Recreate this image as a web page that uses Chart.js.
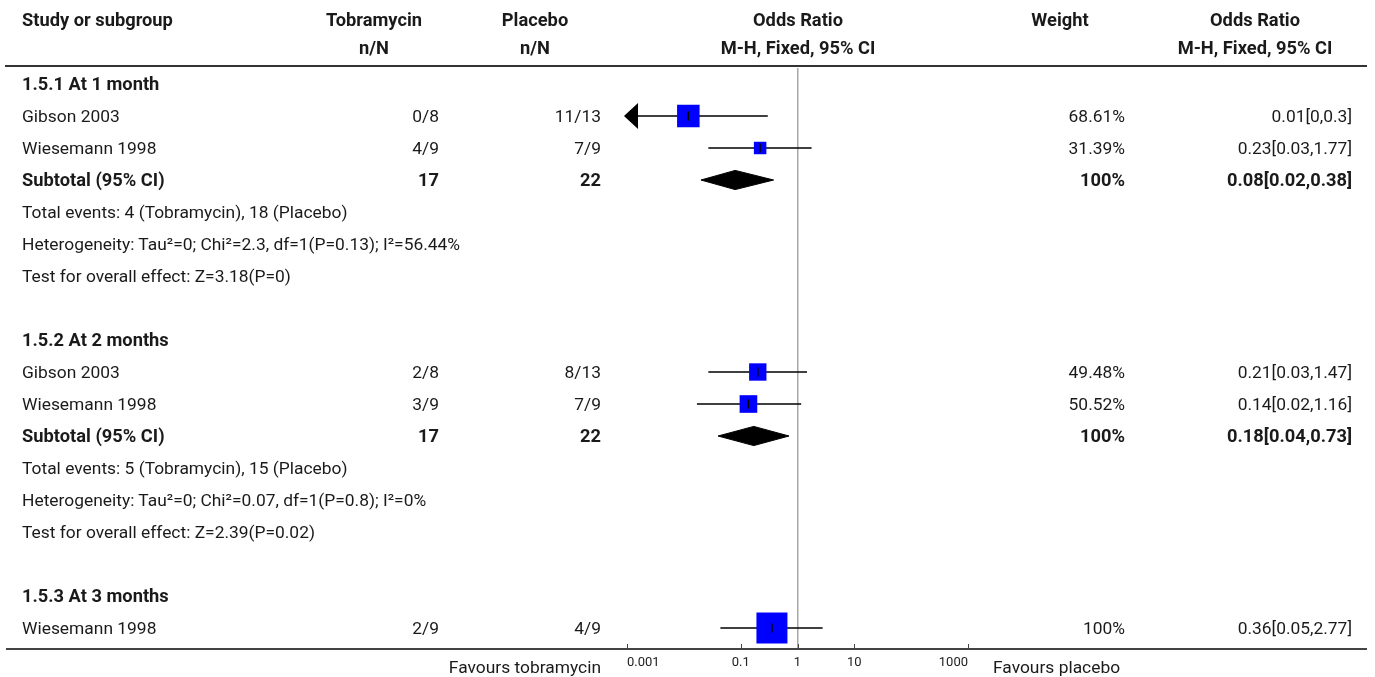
<!DOCTYPE html>
<html><head><meta charset="utf-8">
<script src="https://cdn.jsdelivr.net/npm/chart.js@4.4.1/dist/chart.umd.min.js"></script>
<style>
html,body{margin:0;padding:0;background:#fff;}
#wrap{position:relative;width:1375px;height:677px;overflow:hidden;font-family:Roboto,"Noto Sans",sans-serif;font-size:17.4px;color:#1a1a1a;}
#wrap canvas{position:absolute;left:0;top:0;}
.t{position:absolute;white-space:nowrap;height:30px;line-height:30px;}
.b{font-weight:bold;font-size:18.3px;}
.hl{position:absolute;height:2px;background:#333;}
</style></head><body><div id="wrap"><div class="hl" style="left:5px;top:65px;width:1362px"></div><div class="hl" style="left:6px;top:648px;width:1361px;background:#444"></div><canvas id="c" width="1375" height="677"></canvas></div>
<script>
// ---------- data ----------
const headerTop = ["Study or subgroup", "Tobramycin", "Placebo", "Odds Ratio", "Weight", "Odds Ratio"];
const headerSub = ["", "n/N", "n/N", "M-H, Fixed, 95% CI", "", "M-H, Fixed, 95% CI"];
const rowLabels = [
  "1.5.1 At 1 month",
  "Gibson 2003",
  "Wiesemann 1998",
  "Subtotal (95% CI)",
  "Total events: 4 (Tobramycin), 18 (Placebo)",
  "Heterogeneity: Tau²=0; Chi²=2.3, df=1(P=0.13); I²=56.44%",
  "Test for overall effect: Z=3.18(P=0)",
  "",
  "1.5.2 At 2 months",
  "Gibson 2003",
  "Wiesemann 1998",
  "Subtotal (95% CI)",
  "Total events: 5 (Tobramycin), 15 (Placebo)",
  "Heterogeneity: Tau²=0; Chi²=0.07, df=1(P=0.8); I²=0%",
  "Test for overall effect: Z=2.39(P=0.02)",
  "",
  "1.5.3 At 3 months",
  "Wiesemann 1998"
];
const rowTypes = ["group","study","study","total","info","info","info","blank","group","study","study","total","info","info","info","blank","group","study"];
const tobramycinNN = ["","0/8","4/9","17","","","","","","2/8","3/9","17","","","","","","2/9"];
const placeboNN    = ["","11/13","7/9","22","","","","","","8/13","7/9","22","","","","","","4/9"];
const weightPct    = [null,68.61,31.39,100,null,null,null,null,null,49.48,50.52,100,null,null,null,null,null,100];
const orText = ["","0.01[0,0.3]","0.23[0.03,1.77]","0.08[0.02,0.38]","","","","","","0.21[0.03,1.47]","0.14[0.02,1.16]","0.18[0.04,0.73]","","","","","","0.36[0.05,2.77]"];
const orEstimate = [null,0.012,0.22,0.08,null,null,null,null,null,0.2,0.137,0.17,null,null,null,null,null,0.355];
const orLower    = [null,0,0.027,0.02,null,null,null,null,null,0.027,0.017,0.04,null,null,null,null,null,0.044];
const orUpper    = [null,0.3,1.77,0.38,null,null,null,null,null,1.47,1.16,0.71,null,null,null,null,null,2.77];
const tickValues = [0.001, 0.1, 1, 10, 1000];
const tickLabels = ["0.001", "0.1", "1", "10", "1000"];
const favoursLeft = "Favours tobramycin";
const favoursRight = "Favours placebo";

// ---------- styling constants ----------
const AXIS_MIN = 0.001, AXIS_MAX = 1000;
const FONT = 'Roboto, "Noto Sans", sans-serif';
const DIAMOND_HALF = 0.3;

// arrow image (points left)
const arrowImg = document.createElement('canvas');
arrowImg.width = 22; arrowImg.height = 26;
(function(){
  const g = arrowImg.getContext('2d');
  g.fillStyle = '#000';
  g.beginPath(); g.moveTo(8, 13); g.lineTo(22, 0); g.lineTo(22, 26); g.closePath(); g.fill();
})();

const datasets = [];
rowTypes.forEach((t, i) => {
  if (t === 'study') {
    datasets.push({
      data: [{x: Math.max(orLower[i], AXIS_MIN), y: i}, {x: orUpper[i], y: i}],
      showLine: true, borderColor: '#000', borderWidth: 1.5, pointRadius: 0, order: 5, clip: false
    });
    if (orLower[i] < AXIS_MIN) {
      datasets.push({ data: [{x: AXIS_MIN, y: i}], pointStyle: arrowImg, pointRadius: 10, order: 1, clip: false });
    }
  } else if (t === 'total') {
    datasets.push({
      data: [{x: orLower[i], y: i}, {x: orEstimate[i], y: i - DIAMOND_HALF}, {x: orUpper[i], y: i}, {x: orEstimate[i], y: i + DIAMOND_HALF}, {x: orLower[i], y: i}],
      showLine: true, fill: 'shape', backgroundColor: '#000', borderColor: '#000', borderWidth: 1, pointRadius: 0, order: 4, clip: false
    });
  }
});
const studyIdx = rowTypes.map((t, i) => t === 'study' ? i : -1).filter(i => i >= 0);
datasets.push({
  data: studyIdx.map(i => ({x: orEstimate[i], y: i})),
  pointStyle: 'rect', backgroundColor: '#0000ff', borderWidth: 0,
  pointRadius: studyIdx.map(i => (4 + weightPct[i] * 0.27) / Math.SQRT2),
  order: 3, clip: false
});
datasets.push({
  data: studyIdx.map(i => ({x: orEstimate[i], y: i})),
  pointStyle: 'line', rotation: 90, pointRadius: 4.5, borderColor: '#000', borderWidth: 1.5,
  order: 2, clip: false
});

const tickMarks = {
  id: 'tickMarks',
  afterDraw(chart) {
    const s = chart.scales.x, ctx = chart.ctx, b = chart.chartArea.bottom;
    ctx.save(); ctx.strokeStyle = '#444'; ctx.lineWidth = 1;
    tickValues.forEach(v => { const x = Math.round(s.getPixelForValue(v)) + 0.5; ctx.beginPath(); ctx.moveTo(x, b); ctx.lineTo(x, b - 5); ctx.stroke(); });
    ctx.restore();
  }
};

const chart = new Chart(document.getElementById('c'), {
  type: 'scatter',
  data: { datasets },
  options: {
    responsive: false, animation: false, devicePixelRatio: 1,
    layout: { padding: { left: 627, right: 407, top: 68, bottom: 6 } },
    plugins: { legend: { display: false }, tooltip: { enabled: false } },
    scales: {
      x: {
        type: 'logarithmic', min: AXIS_MIN, max: AXIS_MAX, position: 'bottom',
        afterBuildTicks: s => { s.ticks = tickValues.map(v => ({value: v})); },
        afterFit: s => { s.height = 22; },
        ticks: { callback: (v, i) => tickLabels[i], autoSkip: false, maxRotation: 0, align: 'inner', padding: 6,
                 font: { family: FONT, size: 13 }, color: '#222' },
        grid: { drawTicks: false, lineWidth: 1.5,
                color: c => (c.tick && c.tick.value === 1) ? '#a8a8a8' : 'rgba(0,0,0,0)' },
        border: { display: true, color: '#444', width: 2 }
      },
      y: { type: 'linear', min: -0.5, max: 17.656, reverse: true, display: false }
    }
  },
  plugins: [tickMarks]
});

// ---------- text ----------
const wrap = document.getElementById('wrap');
function addText(txt, x, y, align, bold) {
  if (!txt) return;
  const d = document.createElement('div');
  d.className = 't' + (bold ? ' b' : '');
  d.textContent = txt;
  d.style.top = (y - 15) + 'px';
  if (align === 'left') d.style.left = x + 'px';
  else if (align === 'right') { d.style.left = (x - 500) + 'px'; d.style.width = '500px'; d.style.textAlign = 'right'; }
  else { d.style.left = (x - 250) + 'px'; d.style.width = '500px'; d.style.textAlign = 'center'; }
  wrap.appendChild(d);
}
const headX = [22, 374, 535, 798, 1060, 1255];
const headAlign = ['left', 'center', 'center', 'center', 'center', 'center'];
headerTop.forEach((h, k) => addText(h, headX[k], 20, headAlign[k], true));
headerSub.forEach((h, k) => addText(h, headX[k], 48, headAlign[k], true));

const ys = chart.scales.y;
rowLabels.forEach((lab, i) => {
  const y = ys.getPixelForValue(i);
  const bold = rowTypes[i] === 'group' || rowTypes[i] === 'total';
  addText(lab, 22, y, 'left', bold);
  addText(tobramycinNN[i], 439, y, 'right', bold);
  addText(placeboNN[i], 601, y, 'right', bold);
  if (weightPct[i] !== null) addText(weightPct[i] + '%', 1125, y, 'right', bold);
  addText(orText[i], 1352, y, 'right', bold);
});
addText(favoursLeft, 601, 667, 'right', false);
addText(favoursRight, 993, 667, 'left', false);
</script></body></html>
